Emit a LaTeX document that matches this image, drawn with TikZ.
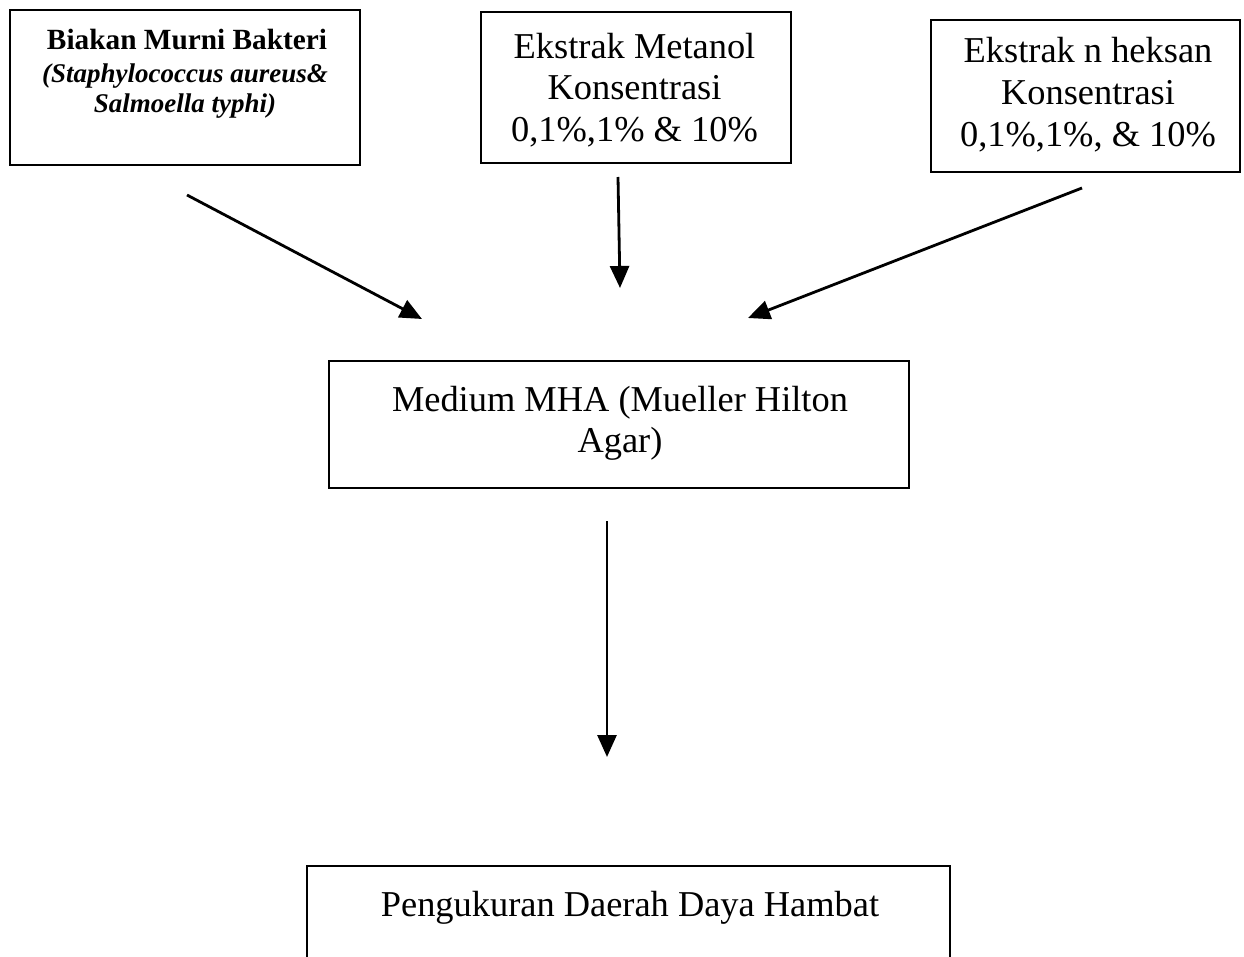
\documentclass[tikz,border=0pt]{standalone}
\usepackage{fontspec}
\setmainfont{Liberation Serif}
\usetikzlibrary{arrows.meta}
\begin{document}
\begin{tikzpicture}[x=1pt,y=-1pt,
  box/.style={draw,line width=2.4pt,inner sep=0pt,minimum width=#1},
  txt/.style={inner sep=0pt,anchor=base},
  big/.style={txt,font=\fontsize{36.4}{42}\selectfont},
  arr/.style={line width=2.8pt,-{Triangle[length=22pt,width=19pt]}}]
\useasboundingbox (0,0) rectangle (1244,957);
\clip (0,0) rectangle (1244,957);
% boxes
\node[box=350pt,minimum height=155pt] (b1) at (185,87.5) {};
\node[box=310pt,minimum height=151pt] (b2) at (636,87.5) {};
\node[box=309pt,minimum height=152pt] (b3) at (1085.5,96) {};
\node[box=580pt,minimum height=127pt] (b4) at (619,424.5) {};
\node[box=643pt,minimum height=130pt] (b5) at (628.5,931) {};
% texts
\node[txt,font=\bfseries\fontsize{29.3}{33}\selectfont] (t1a) at (187,50) {Biakan Murni Bakteri};
\node[txt,font=\bfseries\itshape\fontsize{27}{30}\selectfont] (t1b) at (185,83) {(Staphylococcus aureus\&};
\node[txt,font=\bfseries\itshape\fontsize{27}{30}\selectfont] (t1c) at (185,113) {Salmoella typhi)};
\node[big] (t2a) at (634.5,59) {Ekstrak Metanol};
\node[big] (t2b) at (634.5,100) {Konsentrasi};
\node[big] (t2c) at (634.5,142) {0,1\%,1\% \& 10\%};
\node[big] (t3a) at (1088,63) {Ekstrak n heksan};
\node[big] (t3b) at (1088,105) {Konsentrasi};
\node[big] (t3c) at (1088,147) {0,1\%,1\%, \& 10\%};
\node[big] (t4a) at (620,411) {Medium MHA (Mueller Hilton};
\node[big] (t4b) at (620,452) {Agar)};
\node[big] (t5) at (630,916) {Pengukuran Daerah Daya Hambat};
% arrow ends
\coordinate (s1) at (187,195);
\coordinate (e1) at (422,319);
\coordinate (s2) at (618,177);
\coordinate (e2) at (620,288);
\coordinate (s3) at (1082,188);
\coordinate (e3) at (748,318);
\coordinate (s4) at (607,521);
\coordinate (e4) at (607,757);
\draw[arr] (s1) -- (e1);
\draw[arr] (s2) -- (e2);
\draw[arr] (s3) -- (e3);
\draw[arr] (s4) -- (e4);
\end{tikzpicture}
\end{document}
